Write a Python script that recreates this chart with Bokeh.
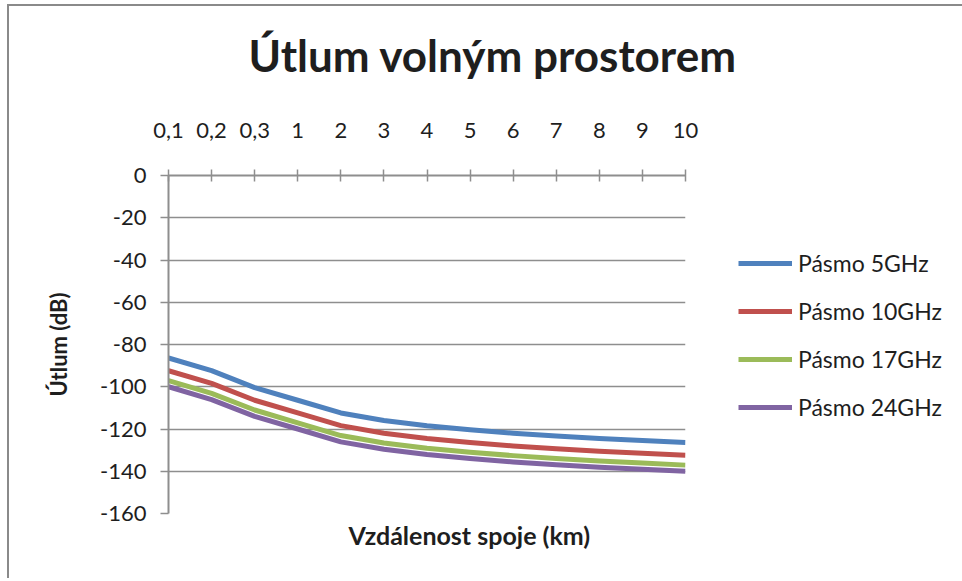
from bokeh.plotting import figure
from bokeh.models import Range1d, LinearAxis, FixedTicker, Legend, LegendItem, Title
from bokeh.embed import file_html
from bokeh.resources import INLINE

categories = ["0,1", "0,2", "0,3", "1", "2", "3", "4", "5", "6", "7", "8", "9", "10"]
pasmo_5 = [-86.4, -92.4, -100.4, -106.4, -112.4, -116.0, -118.5, -120.4, -122.0, -123.3, -124.5, -125.5, -126.4]
pasmo_10 = [-92.4, -98.4, -106.4, -112.4, -118.4, -122.0, -124.5, -126.4, -128.0, -129.3, -130.5, -131.5, -132.4]
pasmo_17 = [-97.1, -103.1, -111.0, -117.1, -123.1, -126.6, -129.1, -131.0, -132.6, -134.0, -135.1, -136.1, -137.1]
pasmo_24 = [-100.0, -106.1, -114.0, -120.0, -126.1, -129.6, -132.1, -134.0, -135.6, -136.9, -138.1, -139.1, -140.0]
series_names = ["Pásmo 5GHz", "Pásmo 10GHz", "Pásmo 17GHz", "Pásmo 24GHz"]
series_colors = ["#4F81BD", "#C0504D", "#9BBB59", "#8064A2"]
y_ticks = [0, -20, -40, -60, -80, -100, -120, -140, -160]
y_tick_labels = ["0", "-20", "-40", "-60", "-80", "-100", "-120", "-140", "-160"]

FONT = "Lato"
GRAY = "#8e8e8e"
TXT = "#1e1e1e"

xs = list(range(len(categories)))

p = figure(frame_width=517, frame_height=338, output_backend="svg", toolbar_location=None,
           x_range=Range1d(0, len(categories) - 1), y_range=Range1d(-160, 0),
           x_axis_location=None, y_axis_location=None,
           min_border_left=159, min_border_right=274, min_border_top=169, min_border_bottom=65)
p.outline_line_color = None
p.background_fill_color = "white"
p.border_fill_color = "white"
p.styles = {"margin-left": "7px", "margin-top": "4px",
            "border-left": "2px solid #8a8a8a", "border-top": "2px solid #8a8a8a"}

p.xgrid.visible = False
p.ygrid.ticker = FixedTicker(ticks=y_ticks)
p.ygrid.grid_line_color = GRAY
p.ygrid.grid_line_width = 1.5

# top category axis (crosses at 0)
top = LinearAxis(ticker=FixedTicker(ticks=xs),
                 major_label_overrides={i: c for i, c in enumerate(categories)})
top.axis_line_color = GRAY
top.axis_line_width = 2
top.major_tick_line_color = GRAY
top.major_tick_line_width = 1.5
top.major_tick_in = 6
top.major_tick_out = 6
top.minor_tick_line_color = None
top.major_label_standoff = 32
top.major_label_text_font = FONT
top.major_label_text_font_size = "22px"
top.major_label_text_color = TXT
p.add_layout(top, "above")

left = LinearAxis(ticker=FixedTicker(ticks=y_ticks),
                  major_label_overrides={t: s for t, s in zip(y_ticks, y_tick_labels)})
left.axis_line_color = GRAY
left.axis_line_width = 2
left.major_tick_line_color = GRAY
left.major_tick_line_width = 1.5
left.major_tick_in = 0
left.major_tick_out = 8
left.minor_tick_line_color = None
left.major_label_standoff = 14
left.major_label_text_font = FONT
left.major_label_text_font_size = "22px"
left.major_label_text_color = TXT
left.axis_label = "Útlum (dB)"
left.axis_label_text_font = FONT
left.axis_label_text_font_size = "22px"
left.axis_label_text_font_style = "bold"
left.axis_label_text_color = TXT
left.axis_label_standoff = 25
p.add_layout(left, "left")

items = []
for name, col, ys in zip(series_names, series_colors, [pasmo_5, pasmo_10, pasmo_17, pasmo_24]):
    r = p.line(xs, ys, line_color=col, line_width=5, line_join="round")
    items.append(LegendItem(label=name, renderers=[r]))

legend = Legend(items=items, location=(53, 92), orientation="vertical")
legend.margin = 0
legend.padding = 0
legend.border_line_color = None
legend.background_fill_alpha = 0
legend.glyph_width = 54
legend.glyph_height = 20
legend.label_height = 20
legend.spacing = 20
legend.label_standoff = 6
legend.label_text_font = FONT
legend.label_text_font_size = "23px"
legend.label_text_color = TXT
p.add_layout(legend, "right")

# spacer between the category labels and the chart title
p.add_layout(Title(text=" ", text_font=FONT, text_font_size="10px", standoff=25), "above")
p.add_layout(Title(text="Útlum volným prostorem", text_font=FONT, text_font_size="44px",
                   text_font_style="bold", text_color=TXT, align="left", offset=80,
                   standoff=0), "above")
p.add_layout(Title(text="Vzdálenost spoje (km)", text_font=FONT, text_font_size="25px",
                   text_font_style="bold", text_color=TXT, align="left", offset=180,
                   standoff=8), "below")

open("out.html", "w").write(file_html(p, INLINE))
